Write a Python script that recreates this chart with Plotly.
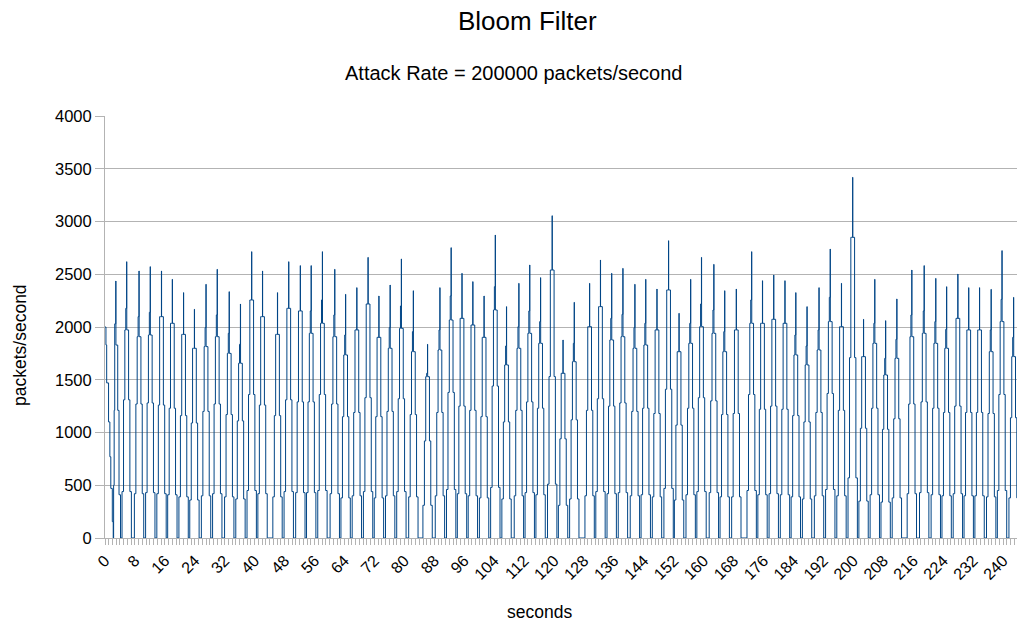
import plotly.graph_objects as go

# Opening seconds: the rate decays from the previous burst, then the first burst rises
lead_t = [0.0, 0.25, 0.45, 0.95, 1.3, 1.55, 1.95, 2.2, 2.3, 2.45, 2.6]
lead_v = [2000, 1830, 1470, 1100, 770, 470, 155, 0, 500, 1210, 2030]

# One entry per burst: time of the peak (s), peak rate, upper shoulders, middle and lower shoulders
peak_time = [
    2.9, 5.8, 9.1, 12.1, 15.1, 18.0, 21.0, 23.9, 27.0, 30.0, 33.2, 36.2, 39.2, 42.1, 46.1, 49.1,
    52.2, 55.1, 58.1, 61.4, 64.3, 67.3, 70.3, 73.2, 76.2, 79.2, 82.4, 86.2, 89.5, 92.5, 95.4, 98.3,
    101.3, 104.3, 107.3, 110.6, 113.5, 116.4, 119.5, 122.4, 125.4, 129.5, 132.4, 135.4, 138.4, 141.6,
    144.5, 147.5, 150.6, 153.4, 156.5, 159.4, 162.7, 165.6, 168.7, 172.8, 175.7, 178.7, 181.7, 184.6,
    187.6, 190.8, 193.8, 196.8, 199.8, 202.7, 205.7, 208.6, 211.6, 215.6, 218.9, 222.0, 224.9, 227.9,
    230.8, 233.7, 236.8, 239.7, 242.8,
]
peak_rate = [
    2436, 2619, 2531, 2572, 2531, 2452, 2326, 2168, 2405, 2547, 2335, 2218, 2714, 2531, 2326, 2619,
    2582, 2582, 2714, 2547, 2310, 2373, 2660, 2294, 2398, 2645, 2344, 1836, 2373, 2752, 2509, 2430,
    2294, 2872, 2193, 2414, 2588, 2468, 3055, 1877, 2234, 2414, 2635, 2509, 2556, 2405,
    2452, 2360, 2818, 2130, 2452, 2660, 2594, 2344, 2360, 2714, 2439, 2493, 2439, 2326,
    2193, 2373, 2739, 2414, 3419, 2073, 2452, 2060, 2266, 2540, 2582, 2461, 2382, 2502,
    2373, 2373, 2357, 2724, 2281,
]
upper_hi = [
    2035, 2177, 2098, 2139, 2098, 2035, 1930, 1798, 1994, 2114, 1940, 1836, 2256, 2098, 1930, 2177,
    2152, 2152, 2256, 2114, 1924, 1972, 2218, 1902, 1994, 2199, 1956, 1561, 1972, 2294, 2082, 2019,
    1902, 2382, 1820, 2003, 2152, 2051, 2540, 1561, 1845, 2003, 2193, 2082, 2120, 1994,
    2035, 1972, 2351, 1766, 2035, 2218, 2161, 1956, 1972, 2256, 2035, 2073, 2035, 1924,
    1820, 1972, 2281, 2003, 2850, 1719, 2035, 1703, 1883, 2114, 2152, 2051, 1978, 2082,
    1972, 1972, 1972, 2262, 1902,
]
upper_lo = [
    1829, 1972, 1908, 1924, 2098, 2035, 1930, 1798, 1814, 1908, 1750, 1656, 2256, 2098, 1930, 2177,
    2152, 1940, 2035, 1908, 1735, 1972, 2218, 1902, 1798, 1987, 1766, 1529, 1782, 2066, 2082, 2019,
    1902, 2161, 1640, 1798, 1940, 1845, 2540, 1561, 1671, 2003, 2193, 1877, 1908, 1798,
    1829, 1972, 2351, 1766, 1845, 2003, 1940, 1766, 1972, 2035, 2035, 2073, 2035, 1735,
    1640, 1782, 2051, 2003, 2850, 1719, 1845, 1545, 1703, 1908, 1940, 1845, 1798, 2082,
    1972, 1972, 1766, 2051, 1719,
]
middle = [
    1210, 1310, 1270, 1280, 1260, 1230, 1160, 1090, 1200, 1270, 1170, 1110, 1360, 1260, 1160, 1310,
    1290, 1290, 1360, 1270, 1150, 1190, 1330, 1150, 1200, 1320, 1170, 920, 1190, 1380, 1250, 1210,
    1150, 1440, 1100, 1210, 1290, 1230, 1530, 940, 1120, 1210, 1320, 1250, 1280, 1200,
    1230, 1180, 1410, 1070, 1230, 1330, 1300, 1170, 1180, 1360, 1220, 1250, 1220, 1160,
    1100, 1190, 1370, 1210, 1710, 1040, 1230, 1030, 1130, 1270, 1290, 1230, 1190, 1250,
    1190, 1190, 1180, 1360, 1140,
]
lower = [
    410, 440, 420, 430, 420, 410, 390, 360, 400, 420, 390, 370, 450, 420, 390, 440,
    430, 430, 450, 420, 380, 400, 440, 380, 400, 440, 390, 310, 400, 460, 420, 400,
    380, 480, 370, 400, 430, 410, 510, 310, 370, 400, 440, 420, 430, 400,
    410, 390, 470, 360, 410, 440, 430, 390, 390, 450, 410, 420, 410, 390,
    370, 400, 460, 400, 570, 350, 410, 340, 380, 420, 430, 410, 400, 420,
    400, 400, 390, 450, 380,
]

x_ticks = list(range(0, 241, 8))

# Expand each burst into a stepped outline around its peak time
t, v = list(lead_t), list(lead_v)
for i, (tp, p, hi, lo, mid, low) in enumerate(
        zip(peak_time, peak_rate, upper_hi, upper_lo, middle, lower)):
    if i > 0:  # the first burst's rising edge is part of the opening seconds
        t += [tp - 1.25, tp - 0.85, tp - 0.5, tp - 0.25]
        v += [low, mid, lo, hi]
    t += [tp - 0.02, tp + 0.02, tp + 0.5, tp + 0.85, tp + 1.25]
    v += [p, lo, mid, low, 0]

fig = go.Figure(go.Scatter(
    x=t, y=v, mode="lines", line=dict(color="#004586", width=1, shape="hv"),
    hoverinfo="skip", showlegend=False,
))

font = "Liberation Sans, Arial, sans-serif"
grid = "#b3b3b3"

fig.update_layout(
    width=1018, height=625,
    margin=dict(l=105, r=1, t=116, b=87),
    paper_bgcolor="white", plot_bgcolor="white",
    font=dict(family=font, size=16, color="#000000"),
    xaxis=dict(
        range=[0, 243.7], tickmode="array", tickvals=x_ticks, ticktext=[str(s) for s in x_ticks],
        tickangle=-45, ticks="outside", ticklen=6, tickcolor=grid, tickfont=dict(size=16),
        minor=dict(dtick=1, ticks="outside", ticklen=6, tickcolor=grid, showgrid=False),
        showgrid=False, zeroline=False, showline=True, linecolor=grid, linewidth=1,
        automargin=False,
    ),
    yaxis=dict(
        range=[0, 4000], dtick=500, ticks="outside", ticklen=9, tickcolor=grid,
        showgrid=True, gridcolor=grid, gridwidth=1, zeroline=False,
        showline=True, linecolor=grid, linewidth=1, tickfont=dict(size=16.5),
        automargin=False,
    ),
    annotations=[
        dict(text="Bloom Filter", xref="paper", yref="paper", x=(527 - 105) / 912,
             y=(538 - 21) / 422, showarrow=False, font=dict(size=26),
             xanchor="center", yanchor="middle"),
        dict(text="Attack Rate = 200000 packets/second", xref="paper", yref="paper",
             x=(513 - 105) / 912, y=(538 - 73) / 422, showarrow=False, font=dict(size=20),
             xanchor="center", yanchor="middle"),
        dict(text="packets/second", xref="paper", yref="paper", x=(20 - 105) / 912,
             y=(538 - 345) / 422, showarrow=False, textangle=-90, font=dict(size=17.5),
             xanchor="center", yanchor="middle"),
        dict(text="seconds", xref="paper", yref="paper", x=(539 - 105) / 912,
             y=(538 - 612) / 422, showarrow=False, font=dict(size=17.5),
             xanchor="center", yanchor="middle"),
    ],
)

fig.write_html("out.html")
